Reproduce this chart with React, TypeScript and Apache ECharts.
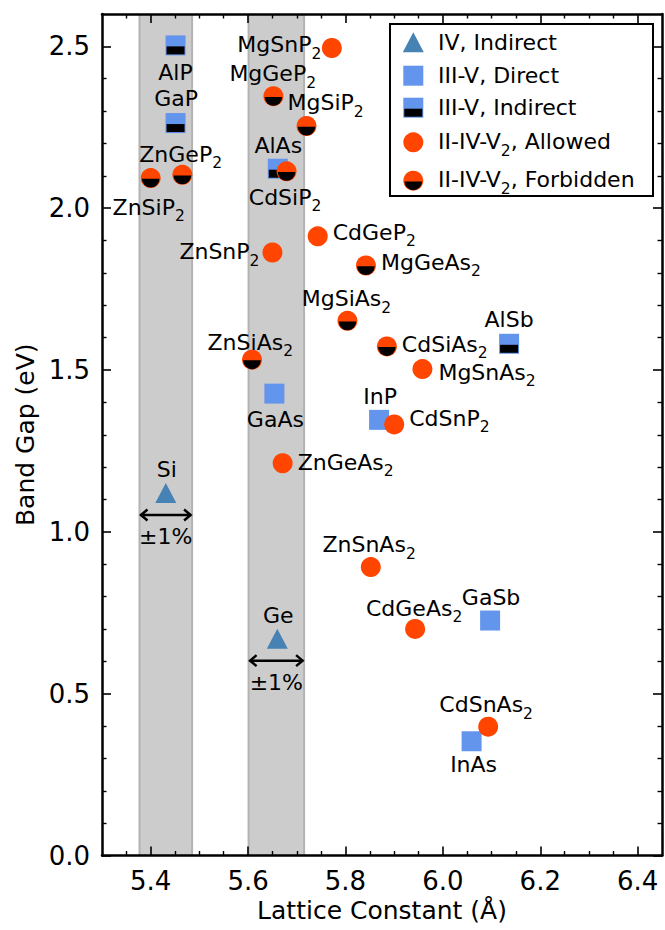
import React, { useEffect, useRef } from 'react';
import * as echarts from 'echarts';

const FONT = '"DejaVu Sans", sans-serif';
const STEEL = '#4682B4';
const CORN = '#6495ED';
const ORANGE = '#FF4500';
const MAIN_SIZE = 22;
const SUB_SIZE = 15.5;
const SUB_DROP = 9;

// ---- data ----
const ivNames = ['Si', 'Ge'];
const ivLattice = [5.431, 5.66];
const ivGap = [1.12, 0.67];

const directNames = ['GaAs', 'InP', 'GaSb', 'InAs'];
const directLattice = [5.654, 5.869, 6.097, 6.059];
const directGap = [1.427, 1.346, 0.726, 0.353];

const indirectNames = ['AlP', 'GaP', 'AlAs', 'AlSb'];
const indirectLattice = [5.451, 5.451, 5.661, 6.136];
const indirectGap = [2.503, 2.263, 2.122, 1.581];

const allowedNames = ['MgSnP2', 'CdGeP2', 'ZnSnP2', 'MgSnAs2', 'CdSnP2', 'ZnGeAs2', 'ZnSnAs2', 'CdGeAs2', 'CdSnAs2'];
const allowedLattice = [5.772, 5.743, 5.65, 5.958, 5.9, 5.671, 5.852, 5.943, 6.093];
const allowedGap = [2.495, 1.913, 1.863, 1.503, 1.332, 1.212, 0.891, 0.7, 0.398];

const forbiddenNames = ['MgGeP2', 'MgSiP2', 'CdSiP2', 'ZnGeP2', 'ZnSiP2', 'MgGeAs2', 'MgSiAs2', 'ZnSiAs2', 'CdSiAs2'];
const forbiddenLattice = [5.652, 5.72, 5.679, 5.465, 5.4, 5.842, 5.804, 5.608, 5.885];
const forbiddenGap = [2.346, 2.254, 2.114, 2.103, 2.093, 1.823, 1.652, 1.532, 1.573];

// ±1% lattice windows around Si and Ge
const windowLow = [5.377, 5.601];
const windowHigh = [5.485, 5.715];
const windowArrowGap = [1.052, 0.602];
const windowText = ['±1%', '±1%'];

// ticks
const xMin = 5.3;
const xMax = 6.45;
const yMin = 0;
const yMax = 2.6;
const xMajor = [5.4, 5.6, 5.8, 6.0, 6.2, 6.4];
const xMinor = [5.35, 5.45, 5.5, 5.55, 5.65, 5.7, 5.75, 5.85, 5.9, 5.95, 6.05, 6.1, 6.15, 6.25, 6.3, 6.35];
const yMajor = [0.0, 0.5, 1.0, 1.5, 2.0, 2.5];
const yMinor = [0.1, 0.2, 0.3, 0.4, 0.6, 0.7, 0.8, 0.9, 1.1, 1.2, 1.3, 1.4, 1.6, 1.7, 1.8, 1.9, 2.1, 2.2, 2.3, 2.4];

const legendLabels = ['IV, Indirect', 'III-V, Direct', 'III-V, Indirect', 'II-IV-V2, Allowed', 'II-IV-V2, Forbidden'];

// ---- label layout (offsets in px from marker centre) ----
const labelLayout: Record<string, [number, number, string]> = {
  Si: [1, -24, 'center'],
  Ge: [1, -23.5, 'center'],
  GaAs: [1, 26, 'center'],
  InP: [1, -23.5, 'center'],
  GaSb: [1, -23, 'center'],
  InAs: [2, 23.5, 'center'],
  AlP: [0, 27, 'center'],
  GaP: [0.5, -24.5, 'center'],
  AlAs: [0.5, -23.7, 'center'],
  AlSb: [0, -24, 'center'],
  MgSnP2: [-10.5, -3, 'right'],
  CdGeP2: [15, -4, 'left'],
  ZnSnP2: [-13, -1, 'right'],
  MgSnAs2: [16, 3, 'left'],
  CdSnP2: [15, -6, 'left'],
  ZnGeAs2: [15, -1, 'left'],
  ZnSnAs2: [-1.7, -22.3, 'center'],
  CdGeAs2: [-1, -20.7, 'center'],
  CdSnAs2: [-2, -21.7, 'center'],
  MgGeP2: [-0.7, -22.7, 'center'],
  MgSiP2: [-19, -23, 'left'],
  CdSiP2: [-1.5, 26, 'center'],
  ZnGeP2: [-1.7, -20.6, 'center'],
  ZnSiP2: [-2, 29, 'center'],
  MgGeAs2: [15, -3, 'left'],
  MgSiAs2: [-1, -22, 'center'],
  ZnSiAs2: [-1.7, -17.5, 'center'],
  CdSiAs2: [15, -2, 'left'],
};

let measureCtx: CanvasRenderingContext2D | null = null;
function textWidth(t: string, size: number): number {
  if (!measureCtx) measureCtx = document.createElement('canvas').getContext('2d');
  if (!measureCtx) return t.length * size * 0.6;
  measureCtx.font = size + 'px ' + FONT;
  return measureCtx.measureText(t).width;
}

function splitSegments(t: string): { text: string; sub: boolean }[] {
  const segs: { text: string; sub: boolean }[] = [];
  let buf = '';
  for (let i = 0; i < t.length; i++) {
    const c = t[i];
    if (/[0-9]/.test(c) && i > 0 && /[A-Za-z]/.test(t[i - 1])) {
      if (buf) segs.push({ text: buf, sub: false });
      buf = '';
      segs.push({ text: c, sub: true });
    } else {
      buf += c;
    }
  }
  if (buf) segs.push({ text: buf, sub: false });
  return segs;
}

// label with chemical subscripts: main text centred vertically on y
function labelTexts(t: string, x: number, y: number, align: string): any[] {
  const segs = splitSegments(t);
  const widths = segs.map((s) => textWidth(s.text, s.sub ? SUB_SIZE : MAIN_SIZE));
  const W = widths.reduce((a, b) => a + b, 0);
  let cx = align === 'left' ? x : align === 'right' ? x - W : x - W / 2;
  return segs.map((s, i) => {
    const el = {
      type: 'text',
      x: cx,
      y: s.sub ? y + SUB_DROP : y,
      style: {
        text: s.text,
        align: 'left',
        verticalAlign: 'middle',
        fontSize: s.sub ? SUB_SIZE : MAIN_SIZE,
        fontFamily: FONT,
        fill: '#000',
      },
    };
    cx += widths[i];
    return el;
  });
}

function markerShape(kind: string, cx: number, cy: number): any {
  switch (kind) {
    case 'tri':
      return {
        type: 'polygon',
        shape: { points: [[cx, cy - 10], [cx - 10.5, cy + 10], [cx + 10.5, cy + 10]] },
        style: { fill: STEEL },
      };
    case 'sq':
      return { type: 'rect', shape: { x: cx - 10, y: cy - 10, width: 20, height: 20 }, style: { fill: CORN } };
    case 'sqHalf':
      return {
        type: 'group',
        children: [
          { type: 'rect', shape: { x: cx - 10, y: cy - 10, width: 20, height: 20 }, style: { fill: CORN } },
          { type: 'rect', shape: { x: cx - 9, y: cy + 1, width: 18, height: 8 }, style: { fill: '#000' } },
        ],
      };
    case 'circ':
      return { type: 'circle', shape: { cx, cy, r: 10 }, style: { fill: ORANGE } };
    default:
      return {
        type: 'group',
        children: [
          { type: 'circle', shape: { cx, cy, r: 10 }, style: { fill: ORANGE } },
          {
            type: 'sector',
            shape: { cx, cy: cy + 0.7, r0: 0, r: 8.8, startAngle: 0, endAngle: Math.PI, clockwise: true },
            style: { fill: '#000' },
          },
        ],
      };
  }
}

function markerSeries(name: string, kind: string, xs: number[], ys: number[]) {
  return {
    type: 'custom',
    name,
    xAxisIndex: 0,
    yAxisIndex: 0,
    z: 3,
    data: xs.map((x, i) => [x, ys[i]]),
    renderItem: (_p: any, api: any) => {
      const [cx, cy] = api.coord([api.value(0), api.value(1)]);
      return markerShape(kind, cx, cy);
    },
  };
}

const allNames = [...ivNames, ...directNames, ...indirectNames, ...allowedNames, ...forbiddenNames];
const allLattice = [...ivLattice, ...directLattice, ...indirectLattice, ...allowedLattice, ...forbiddenLattice];
const allGap = [...ivGap, ...directGap, ...indirectGap, ...allowedGap, ...forbiddenGap];

function buildOption() {
  const xBase = { type: 'value', min: xMin, max: xMax, splitLine: { show: false }, z: 10 };
  const yBase = { type: 'value', min: yMin, max: yMax, splitLine: { show: false }, z: 10 };
  const lineOn = { show: true, onZero: false, lineStyle: { color: '#000', width: 2.5 } };
  const lineOff = { show: false, onZero: false };
  const major = (vals: number[]) => ({
    show: true, inside: true, length: 9, customValues: vals, lineStyle: { color: '#000', width: 1.6 },
  });
  const minor = (vals: number[]) => ({
    show: true, inside: true, length: 4.5, customValues: vals, lineStyle: { color: '#000', width: 1.4 },
  });
  const tickLabel = (vals: number[]) => ({
    show: true,
    customValues: vals,
    formatter: (v: number) => v.toFixed(1),
    fontSize: 26,
    fontFamily: FONT,
    color: '#000',
    margin: 12,
  });

  const legendRowsY = [42.3, 75.7, 107.7, 142.3, 180.7];
  const legendTextY = [42.3, 75.7, 107.7, 141.7, 179.5];
  const legendKinds = ['tri', 'sq', 'sqHalf', 'circ', 'circHalf'];
  const legendChildren: any[] = [
    { type: 'rect', shape: { x: 390, y: 24, width: 263, height: 172 }, style: { fill: '#fff', stroke: '#000', lineWidth: 2 } },
  ];
  legendKinds.forEach((k, i) => {
    legendChildren.push(markerShape(k, 413.3, legendRowsY[i]));
    labelTexts(legendLabels[i], 438, legendTextY[i], 'left').forEach((el) => legendChildren.push(el));
  });

  return {
    animation: false,
    backgroundColor: '#fff',
    grid: { left: 102, right: 3, top: 14, bottom: 74.5, containLabel: false, outerBoundsMode: 'none' },
    xAxis: [
      {
        ...xBase, position: 'bottom', axisLine: lineOn, axisTick: major(xMajor), axisLabel: tickLabel(xMajor),
        name: 'Lattice Constant (Å)', nameLocation: 'middle', nameGap: 42,
        nameTextStyle: { fontSize: 25, fontFamily: FONT, color: '#000' },
      },
      { ...xBase, position: 'top', axisLine: lineOn, axisTick: major(xMajor), axisLabel: { show: false } },
      { ...xBase, position: 'bottom', axisLine: lineOff, axisTick: minor(xMinor), axisLabel: { show: false } },
      { ...xBase, position: 'top', axisLine: lineOff, axisTick: minor(xMinor), axisLabel: { show: false } },
    ],
    yAxis: [
      {
        ...yBase, position: 'left', axisLine: lineOn, axisTick: major(yMajor), axisLabel: tickLabel(yMajor),
        name: 'Band Gap (eV)', nameLocation: 'middle', nameGap: 62,
        nameTextStyle: { fontSize: 25, fontFamily: FONT, color: '#000' },
      },
      { ...yBase, position: 'right', axisLine: lineOn, axisTick: major(yMajor), axisLabel: { show: false } },
      { ...yBase, position: 'left', axisLine: lineOff, axisTick: minor(yMinor), axisLabel: { show: false } },
      { ...yBase, position: 'right', axisLine: lineOff, axisTick: minor(yMinor), axisLabel: { show: false } },
    ],
    series: [
      {
        type: 'custom',
        name: 'windows',
        xAxisIndex: 0,
        yAxisIndex: 0,
        z: 1,
        data: windowLow.map((lo, i) => [lo, windowHigh[i]]),
        renderItem: (_p: any, api: any) => {
          const p0 = api.coord([api.value(0), yMax]);
          const p1 = api.coord([api.value(1), yMin]);
          return {
            type: 'group',
            children: [
              { type: 'rect', shape: { x: p0[0], y: p0[1], width: p1[0] - p0[0], height: p1[1] - p0[1] }, style: { fill: '#cccccc' } },
              { type: 'line', shape: { x1: p0[0], y1: p0[1], x2: p0[0], y2: p1[1] }, style: { stroke: '#b3b3b3', lineWidth: 2 } },
              { type: 'line', shape: { x1: p1[0], y1: p0[1], x2: p1[0], y2: p1[1] }, style: { stroke: '#b3b3b3', lineWidth: 2 } },
            ],
          };
        },
      },
      {
        type: 'custom',
        name: 'arrows',
        xAxisIndex: 0,
        yAxisIndex: 0,
        z: 2,
        data: windowLow.map((lo, i) => [lo, windowHigh[i], windowArrowGap[i]]),
        renderItem: (p: any, api: any) => {
          const a = api.coord([api.value(0), api.value(2)]);
          const b = api.coord([api.value(1), api.value(2)]);
          const y = a[1];
          const st = { stroke: '#000', lineWidth: 2.5, fill: 'none' };
          return {
            type: 'group',
            children: [
              { type: 'line', shape: { x1: a[0] + 1, y1: y, x2: b[0] - 1, y2: y }, style: st },
              { type: 'polyline', shape: { points: [[a[0] + 8, y - 5.5], [a[0] + 1.5, y], [a[0] + 8, y + 5.5]] }, style: st },
              { type: 'polyline', shape: { points: [[b[0] - 8, y - 5.5], [b[0] - 1.5, y], [b[0] - 8, y + 5.5]] }, style: st },
              {
                type: 'text', x: (a[0] + b[0]) / 2, y: y + 21.5,
                style: { text: windowText[p.dataIndex], align: 'center', verticalAlign: 'middle', fontSize: MAIN_SIZE, fontFamily: FONT, fill: '#000' },
              },
            ],
          };
        },
      },
      markerSeries('IV, Indirect', 'tri', ivLattice, ivGap),
      markerSeries('III-V, Direct', 'sq', directLattice, directGap),
      markerSeries('III-V, Indirect', 'sqHalf', indirectLattice, indirectGap),
      markerSeries('II-IV-V2, Allowed', 'circ', allowedLattice, allowedGap),
      markerSeries('II-IV-V2, Forbidden', 'circHalf', forbiddenLattice, forbiddenGap),
      {
        type: 'custom',
        name: 'labels',
        xAxisIndex: 0,
        yAxisIndex: 0,
        z: 4,
        data: allLattice.map((x, i) => [x, allGap[i]]),
        renderItem: (p: any, api: any) => {
          const [cx, cy] = api.coord([api.value(0), api.value(1)]);
          const nm = allNames[p.dataIndex];
          const lay = labelLayout[nm] || [0, -24, 'center'];
          return { type: 'group', children: labelTexts(nm, cx + lay[0], cy + lay[1], lay[2]) };
        },
      },
    ],
    graphic: [{ type: 'group', z: 20, children: legendChildren }],
  };
}

export default function App() {
  const ref = useRef<HTMLDivElement>(null);
  useEffect(() => {
    document.body.style.margin = '0';
    if (!ref.current) return;
    const chart = echarts.init(ref.current, undefined, { renderer: 'svg' });
    chart.setOption(buildOption() as any);
    return () => chart.dispose();
  }, []);
  return <div ref={ref} style={{ width: 665, height: 930 }} />;
}
